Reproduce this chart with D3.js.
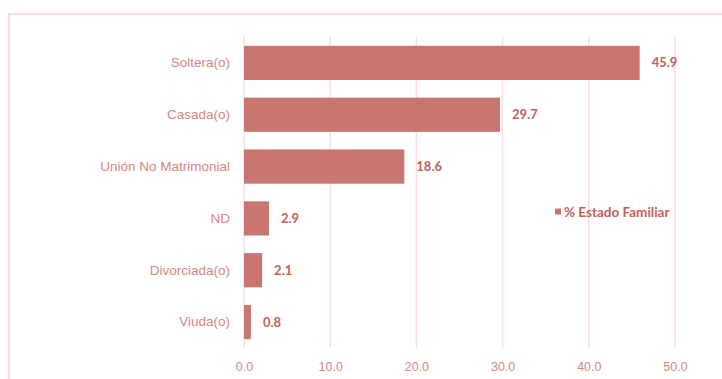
<!DOCTYPE html>
<html>
<head>
<meta charset="utf-8">
<script src="https://cdn.jsdelivr.net/npm/d3@7"></script>
<style>
  body { margin: 0; background: #fff; }
  svg { display: block; font-family: Lato, "Open Sans", sans-serif; }
</style>
</head>
<body>
<svg id="chart" width="722" height="379"></svg>
<script>
const categories = ['Soltera(o)', 'Casada(o)', 'Unión No Matrimonial', 'ND', 'Divorciada(o)', 'Viuda(o)'];
const values = [45.9, 29.7, 18.6, 2.9, 2.1, 0.8];
const xTicks = [0, 10, 20, 30, 40, 50];
const seriesName = '% Estado Familiar';

const color = {
  bar: '#c97570',
  label: '#d9857f',
  value: '#c4605b',
  grid: '#f9dedc',
  frame: '#fadcda'
};

const svg = d3.select('#chart');
const margin = { top: 37, bottom: 31, left: 244, right: 47 };
const width = 722, height = 379;

// chart frame (only top and left edges visible in the picture)
svg.append('rect')
  .attr('x', 9).attr('y', 14)
  .attr('width', 730).attr('height', 400)
  .attr('fill', 'none')
  .attr('stroke', color.frame)
  .attr('stroke-width', 2);

const x = d3.scaleLinear([0, 50], [margin.left, width - margin.right]);
const y = d3.scaleBand(categories, [margin.top, height - margin.bottom]).paddingInner(0.34).paddingOuter(0.17);

// gridlines
svg.append('g')
  .selectAll('line')
  .data(xTicks)
  .join('line')
    .attr('x1', d => x(d)).attr('x2', d => x(d))
    .attr('y1', margin.top).attr('y2', height - margin.bottom)
    .attr('stroke', color.grid)
    .attr('stroke-width', 1.5);

// x axis labels
const xAxis = d3.axisBottom(x).tickValues(xTicks).tickFormat(d3.format('.1f')).tickSize(0).tickPadding(14);
svg.append('g')
  .attr('transform', `translate(0, ${height - margin.bottom})`)
  .call(xAxis)
  .call(g => g.select('.domain').remove())
  .call(g => g.selectAll('text')
    .attr('fill', color.label)
    .attr('font-size', 12.5));

// y axis labels
const yAxis = d3.axisLeft(y).tickSize(0).tickPadding(14);
svg.append('g')
  .attr('transform', `translate(${margin.left}, 0)`)
  .call(yAxis)
  .call(g => g.select('.domain').remove())
  .call(g => g.selectAll('text')
    .attr('fill', color.label)
    .attr('font-size', 13.5));

// bars
const data = categories.map((c, i) => ({ cat: c, val: values[i] }));
svg.append('g')
  .selectAll('rect')
  .data(data)
  .join('rect')
    .attr('x', x(0))
    .attr('y', d => y(d.cat))
    .attr('width', d => x(d.val) - x(0))
    .attr('height', y.bandwidth())
    .attr('fill', color.bar);

// value labels
svg.append('g')
  .selectAll('text')
  .data(data)
  .join('text')
    .attr('x', d => x(d.val) + 12)
    .attr('y', d => y(d.cat) + y.bandwidth() / 2)
    .attr('dy', '0.35em')
    .attr('fill', color.value)
    .attr('font-size', 13)
    .attr('font-weight', 700)
    .text(d => d3.format('.1f')(d.val));

// legend
const legend = svg.append('g').attr('transform', 'translate(555, 212)');
legend.append('rect')
  .attr('x', 0).attr('y', -3.5)
  .attr('width', 6).attr('height', 6)
  .attr('fill', color.bar);
legend.append('text')
  .attr('x', 9)
  .attr('dy', '0.35em')
  .attr('fill', color.value)
  .attr('font-size', 13.5)
  .attr('font-weight', 700)
  .text(seriesName);
</script>
</body>
</html>
